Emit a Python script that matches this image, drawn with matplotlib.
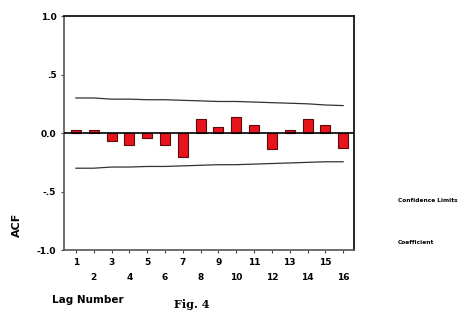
import numpy as np
import matplotlib.pyplot as plt

# ACF coefficients for lags 1..16
lags = list(range(1, 17))
acf = [0.025, 0.025, -0.07, -0.10, -0.04, -0.10, -0.20, 0.12,
       0.05, 0.14, 0.07, -0.14, 0.03, 0.12, 0.07, -0.13]
upper_limit = [0.30, 0.30, 0.29, 0.29, 0.285, 0.285, 0.28, 0.275,
               0.27, 0.27, 0.265, 0.26, 0.255, 0.25, 0.24, 0.235]
lower_limit = [-0.30, -0.30, -0.29, -0.29, -0.285, -0.285, -0.28, -0.275,
               -0.27, -0.27, -0.265, -0.26, -0.255, -0.25, -0.245, -0.245]
ytick_vals = [-1.0, -0.5, 0.0, 0.5, 1.0]
ytick_labels = ['-1.0', '-.5', '0.0', '.5', '1.0']
xtick_labels = [str(l) if l % 2 else '\n' + str(l) for l in lags]

fig = plt.figure(figsize=(4.6, 3.27), dpi=100)
ax = fig.add_axes([0.139, 0.235, 0.631, 0.716])

ax.bar(lags, acf, width=0.56, color='#e8141c', edgecolor='#5a0a0a', linewidth=0.8, zorder=3)
ax.plot(lags, upper_limit, color='#333333', lw=0.9, zorder=2)
ax.plot(lags, lower_limit, color='#333333', lw=0.9, zorder=2)
ax.axhline(0, color='black', lw=1.2, zorder=4)

ax.set_xlim(0.33, 16.62)
ax.set_ylim(-1.0, 1.0)
ax.set_yticks(ytick_vals)
ax.set_yticklabels(ytick_labels, fontsize=6.5, fontweight='bold')
ax.set_xticks(lags)
ax.set_xticklabels(xtick_labels, fontsize=6.5, fontweight='bold', linespacing=1.9)
ax.tick_params(axis='both', direction='out', length=2.5, width=0.8, pad=3, colors='#444444', labelcolor='black')

for side in ['top', 'right']:
    ax.spines[side].set_color('black')
    ax.spines[side].set_linewidth(1.2)
for side in ['left', 'bottom']:
    ax.spines[side].set_color('#555555')
    ax.spines[side].set_linewidth(1.2)

fig.text(17 / 460, 1 - 225 / 327, 'ACF', rotation=90, fontsize=8, fontweight='bold', ha='center', va='center')
fig.text(88 / 460, 1 - 300 / 327, 'Lag Number', fontsize=7.5, fontweight='bold', ha='center', va='center')
fig.text(192 / 460, 1 - 305 / 327, 'Fig. 4', fontsize=8, fontweight='bold', ha='center', va='center', family='DejaVu Serif')
fig.text(398 / 460, 1 - 201 / 327, 'Confidence Limits', fontsize=4.2, fontweight='bold', ha='left', va='center')
fig.text(398 / 460, 1 - 243 / 327, 'Coefficient', fontsize=4.2, fontweight='bold', ha='left', va='center')

fig.savefig('out.png', dpi=100)
